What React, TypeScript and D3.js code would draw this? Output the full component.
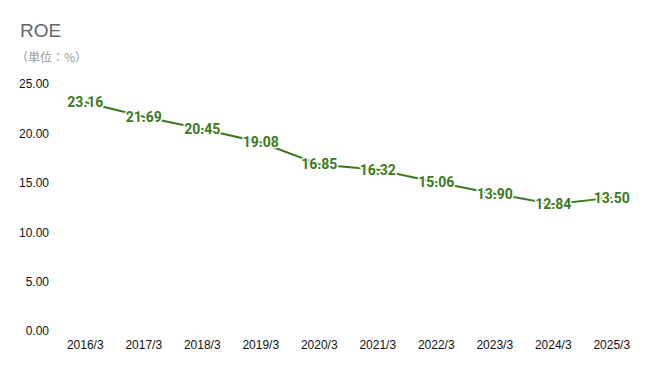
import { useRef, useEffect } from 'react';
import * as d3 from 'd3';

const years = ['2016/3', '2017/3', '2018/3', '2019/3', '2020/3', '2021/3', '2022/3', '2023/3', '2024/3', '2025/3'];
const roe = [23.16, 21.69, 20.45, 19.08, 16.85, 16.32, 15.06, 13.90, 12.84, 13.50];
const yTicks = [0, 5, 10, 15, 20, 25];

const RoeChart = () => {
    const svgRef = useRef<SVGSVGElement | null>(null);

    useEffect(() => {
        const svgElement = svgRef.current;
        if (!svgElement) return;

        const width = 660;
        const height = 371;
        const margin = { top: 84, right: 19, bottom: 40, left: 56 };

        const svg = d3.select(svgElement);
        svg.selectAll('*').remove();

        svg.append('text')
            .attr('x', 20)
            .attr('y', 37)
            .text('ROE')
            .style('font-family', '"Liberation Sans", Arial, sans-serif')
            .style('font-size', '19px')
            .style('fill', '#666');

        svg.append('text')
            .attr('x', 16)
            .attr('y', 62)
            .text('（単位：%）')
            .style('font-family', '"Noto Sans CJK JP", sans-serif')
            .style('font-size', '12px')
            .style('fill', '#999');

        const x = d3.scaleBand()
            .domain(years)
            .range([margin.left, width - margin.right]);

        const y = d3.scaleLinear()
            .domain([0, 25])
            .range([height - margin.bottom, margin.top]);

        const yAxis = svg.append('g')
            .attr('transform', `translate(${margin.left}, 0)`)
            .call(d3.axisLeft(y)
                .tickValues(yTicks)
                .tickSize(0)
                .tickPadding(7)
                .tickFormat(d => d3.format('.2f')(d as number))
            );
        yAxis.select('.domain').remove();
        yAxis.selectAll('text')
            .attr('fill', '#111')
            .style('font-family', '"Liberation Sans", Arial, sans-serif')
            .style('font-size', '12px');

        const xAxis = svg.append('g')
            .attr('transform', `translate(0, ${height - margin.bottom})`)
            .call(d3.axisBottom(x).tickSize(0).tickPadding(9));
        xAxis.select('.domain').remove();
        xAxis.selectAll('text')
            .attr('fill', '#111')
            .style('font-family', '"Liberation Sans", Arial, sans-serif')
            .style('font-size', '12px');

        const points = years.map((yr, i) => ({ yr, v: roe[i] }));

        const line = d3.line<{ yr: string, v: number }>()
            .x(d => (x(d.yr) as number) + x.bandwidth() / 2)
            .y(d => y(d.v));

        svg.append('path')
            .datum(points)
            .attr('fill', 'none')
            .attr('stroke', '#3a7a1e')
            .attr('stroke-width', 2)
            .attr('d', line);

        // value labels with a white halo over the line
        svg.append('g')
            .selectAll('text')
            .data(points)
            .join('text')
            .attr('x', d => (x(d.yr) as number) + x.bandwidth() / 2)
            .attr('y', d => y(d.v))
            .attr('dy', '0.35em')
            .attr('text-anchor', 'middle')
            .text(d => d3.format('.2f')(d.v))
            .style('font-family', 'Roboto, sans-serif')
            .style('font-weight', 'bold')
            .style('font-size', '14px')
            .style('fill', '#3a7a1e')
            .style('stroke', '#fff')
            .style('stroke-width', 3)
            .style('stroke-linejoin', 'round')
            .style('paint-order', 'stroke');
    }, []);

    return (
        <svg ref={svgRef} width={660} height={371} style={{ display: 'block', background: '#fff' }}></svg>
    );
};

export default function App() {
    return (
        <div style={{ position: 'absolute', left: 0, top: 0 }}>
            <RoeChart />
        </div>
    );
}
